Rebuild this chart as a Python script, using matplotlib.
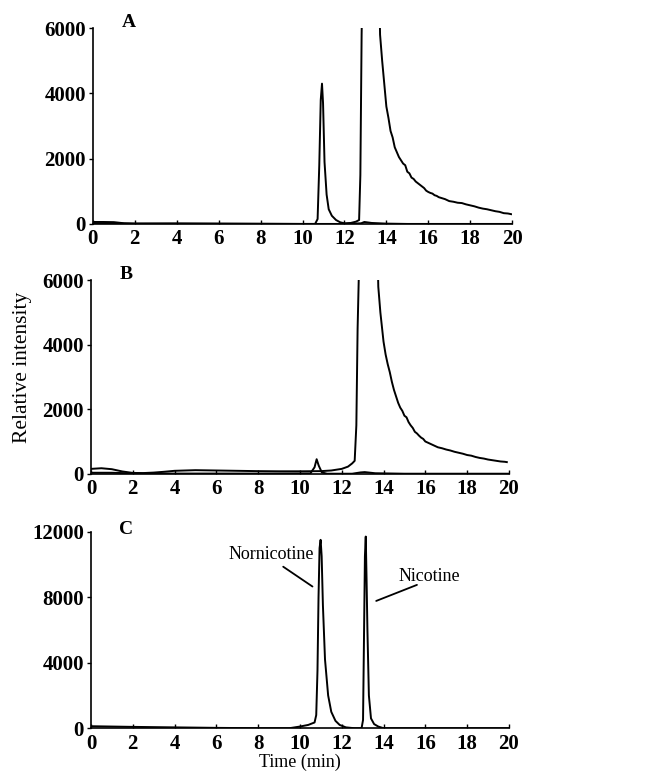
import matplotlib
matplotlib.use("Agg")
import matplotlib.pyplot as plt

plt.rcParams['font.family'] = ['Liberation Serif', 'DejaVu Serif']

# ---- Data ----
# Panel A: main trace
a_time = [0, 0.5, 1.0, 1.5, 2, 4, 6, 8, 10, 10.6, 10.72, 10.8, 10.87, 10.93, 10.98, 11.05, 11.15, 11.25,
          11.4, 11.6, 11.8, 12.0, 12.3, 12.55, 12.7, 12.76, 12.82, 12.9, 13.3, 13.7, 13.8, 13.9, 14.0,
          14.1, 14.2, 14.3, 14.4, 14.5, 14.6, 14.7, 14.8, 14.9, 15.0, 15.1, 15.2, 15.3, 15.4, 15.5,
          15.6, 15.7, 15.8, 15.9, 16.0, 16.1, 16.2, 16.3, 16.4, 16.5, 16.6, 16.8, 17.0, 17.2, 17.4,
          17.6, 17.8, 18.0, 18.2, 18.4, 18.6, 18.8, 19.0, 19.2, 19.4, 19.6, 19.8, 19.95]
a_int = [60, 60, 55, 20, 10, 15, 10, 5, 0, 0, 150, 1800, 3800, 4300, 3700, 1900, 900, 450,
         250, 120, 50, 20, 30, 70, 120, 1500, 5800, 9000, 20000, 5800, 5000, 4300, 3600,
         3250, 2850, 2650, 2350, 2200, 2050, 1950, 1850, 1800, 1600, 1550, 1420, 1380, 1300, 1250,
         1200, 1150, 1100, 1020, 980, 950, 930, 880, 860, 820, 800, 760, 700, 680, 650,
         640, 600, 570, 540, 500, 470, 450, 420, 390, 370, 330, 320, 300]
# Panel A: second (baseline) trace
a2_time = [0, 2, 6, 10, 12.0, 12.8, 12.95, 13.3, 14.0, 15, 17, 20]
a2_int = [20, 10, 5, 0, 0, 20, 60, 30, 10, 0, 0, 0]

# Panel B: main trace
b_time = [0, 0.5, 1.0, 1.5, 2.0, 2.5, 3.0, 3.5, 4.0, 5, 6, 7, 8, 9, 10, 11, 11.5, 12.0, 12.3,
          12.5, 12.62, 12.7, 12.76, 12.82, 12.9, 13.3, 13.75, 13.85, 14.0, 14.1, 14.2, 14.3,
          14.4, 14.5, 14.6, 14.7, 14.8, 14.9, 15.0, 15.1, 15.2, 15.3, 15.4, 15.5, 15.6, 15.7,
          15.8, 15.9, 16.0, 16.2, 16.4, 16.6, 16.8, 17.0, 17.2, 17.4, 17.6, 17.8, 18.0, 18.2,
          18.4, 18.6, 18.8, 19.0, 19.2, 19.4, 19.6, 19.8, 19.9]
b_int = [150, 170, 140, 70, 25, 20, 35, 60, 90, 110, 100, 90, 80, 75, 75, 80, 100, 150, 220,
         320, 400, 1500, 4500, 6200, 9000, 20000, 5800, 5000, 4100, 3700, 3400, 3150,
         2850, 2600, 2400, 2200, 2050, 1950, 1800, 1750, 1600, 1500, 1420, 1300, 1250, 1180,
         1120, 1080, 1000, 940, 880, 820, 790, 750, 720, 680, 650, 620, 580, 560,
         520, 490, 470, 440, 420, 400, 380, 370, 360]
# Panel B: second trace with small peak
b2_time = [0, 1, 2, 4, 8, 10.5, 10.7, 10.8, 10.9, 11.05, 11.3, 12.5, 12.9, 13.1, 13.6, 15, 20]
b2_int = [30, 30, 10, 5, 5, 10, 200, 450, 250, 40, 0, 0, 40, 50, 15, 0, 0]

# Panel C: standards
c_time = [0, 2, 4, 6, 8, 9.5, 10.0, 10.4, 10.7, 10.78, 10.84, 10.89, 10.94, 10.99, 11.04, 11.1,
          11.2, 11.35, 11.5, 11.7, 11.9, 12.2, 12.6, 12.95, 13.02, 13.07, 13.11, 13.15, 13.19,
          13.23, 13.3, 13.4, 13.55, 13.75, 14.0, 16, 18, 20]
c_int = [120, 80, 50, 20, 0, 0, 100, 200, 350, 800, 3500, 8000, 11000, 11500, 10500, 7500,
         4200, 2000, 1000, 450, 200, 50, 0, 0, 500, 6000, 10500, 11700, 9000,
         6000, 2000, 600, 250, 100, 0, 0, 0, 0]

x_ticks = [0, 2, 4, 6, 8, 10, 12, 14, 16, 18, 20]
ab_yticks = [0, 2000, 4000, 6000]
c_yticks = [0, 4000, 8000, 12000]
panel_labels = ['A', 'B', 'C']

fig = plt.figure(figsize=(6.45, 7.83), dpi=100)

rects = [
    [0.144, 0.714, 0.650, 0.250],
    [0.141, 0.395, 0.648, 0.247],
    [0.141, 0.070, 0.648, 0.251],
]

axes = [fig.add_axes(r) for r in rects]

series = [
    [(a_time, a_int), (a2_time, a2_int)],
    [(b_time, b_int), (b2_time, b2_int)],
    [(c_time, c_int)],
]

for i, ax in enumerate(axes):
    for t, v in series[i]:
        ax.plot(t, v, color='black', lw=1.4)
    ax.set_xlim(0, 20)
    if i < 2:
        ax.set_ylim(0, 6000)
        ax.set_yticks(ab_yticks)
    else:
        ax.set_ylim(0, 12000)
        ax.set_yticks(c_yticks)
    ax.set_xticks(x_ticks)
    ax.spines['top'].set_visible(False)
    ax.spines['right'].set_visible(False)
    ax.spines['left'].set_linewidth(1.2)
    ax.spines['bottom'].set_linewidth(1.2)
    ax.tick_params(axis='y', direction='out', length=3, width=1.0, pad=2, labelsize=15)
    ax.tick_params(axis='x', direction='in', length=3, width=1.0, pad=4, labelsize=15)
    for lab in ax.get_xticklabels() + ax.get_yticklabels():
        lab.set_fontweight('bold')
    ax.text(0.085, 1.03 if i < 2 else 1.01, panel_labels[i], transform=ax.transAxes,
            fontsize=14, fontweight='bold', ha='center', va='center')

axes[1].set_ylabel('Relative intensity', fontsize=15.5)
axes[1].yaxis.set_label_coords(-0.14, 0.55)
axes[2].set_xlabel('Time (min)', fontsize=13, labelpad=0)

axes[2].text(8.65, 10600, 'Nornicotine', fontsize=13, ha='center', va='center')
axes[2].annotate('', xy=(10.6, 8650), xytext=(9.2, 9860),
                 arrowprops=dict(arrowstyle='-', color='black', lw=1.3, shrinkA=0, shrinkB=0))
axes[2].text(16.2, 9250, 'Nicotine', fontsize=13, ha='center', va='center')
axes[2].annotate('', xy=(13.65, 7770), xytext=(15.6, 8750),
                 arrowprops=dict(arrowstyle='-', color='black', lw=1.3, shrinkA=0, shrinkB=0))

fig.savefig('out.png', dpi=100)
